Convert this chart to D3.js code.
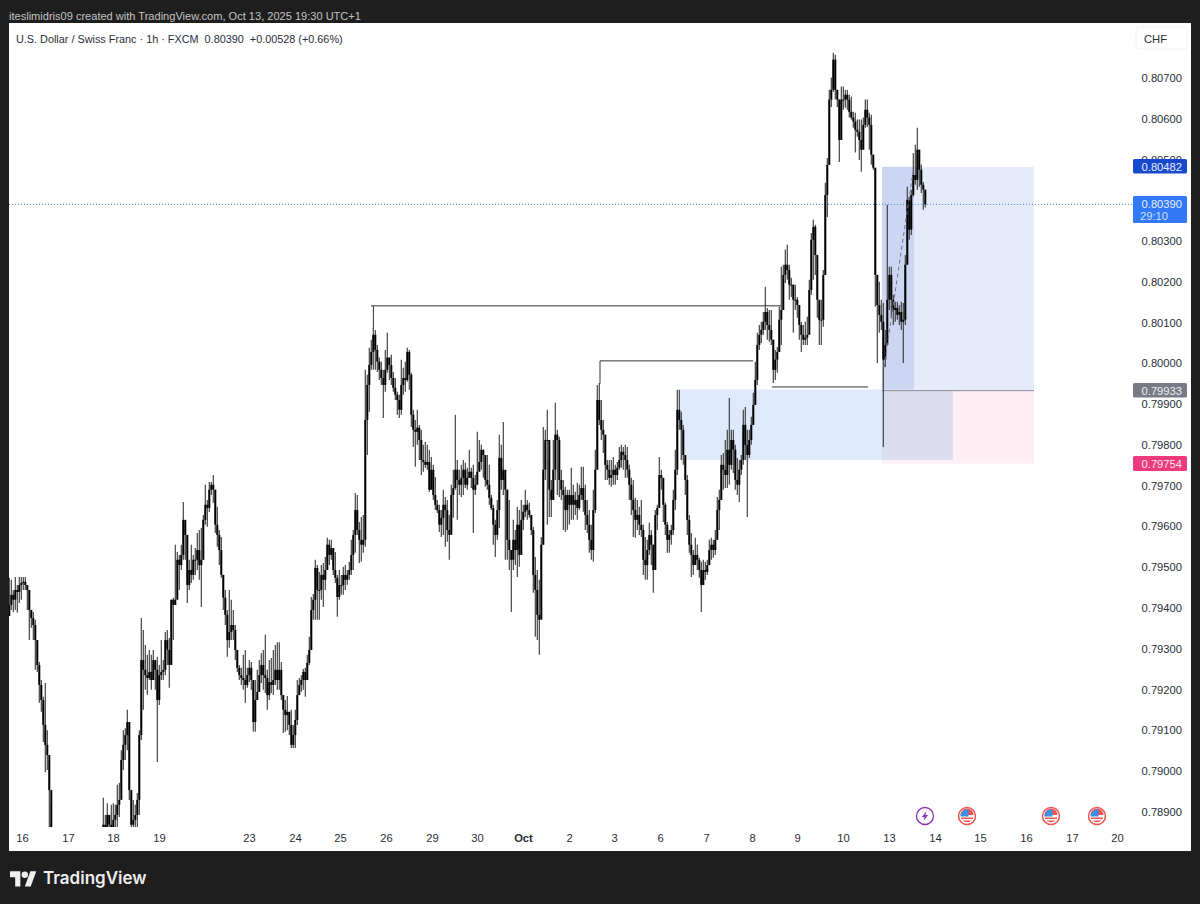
<!DOCTYPE html>
<html>
<head>
<meta charset="utf-8">
<script src="https://cdn.jsdelivr.net/npm/d3@7"></script>
<style>
  html, body { margin: 0; background: #1e1e1e; }
  svg { display: block; }
  text { font-family: "Liberation Sans", Arimo, sans-serif; }
</style>
</head>
<body>
<svg id="chart" width="1200" height="904"></svg>
<script>
// prices are in 1e-5 CHF points, one line per session
// the stretch around Sep 17 runs below the visible scale, so those are rough
const closes = [
  79407,79432,79420,79444,79439,79456,79461,79464,79456,79444,79395,79375,79358,79321,79260,79211,79174,79113,79064,79039,78953,78843,
  78790,78760,78700,78640,78590,78540,78500,78470,78430,78400,78360,78330,78300,78340,78390,78420,78460,78510,78540,78590,78620,78660,78700,78750,78800,
  78868,78855,78892,78868,78855,
  78880,78892,78917,78929,79027,79064,79088,79120,78953,78868,78880,78892,78929,79088,79272,79248,79235,79228,79243,79223,79272,79248,79174,
  79235,79243,79248,79321,79297,79260,79420,79407,79420,79518,79505,79530,79616,79579,79456,79493,79481,79518,79518,79542,79505,79518,79616,
  79653,79645,79690,79702,79690,79604,79579,79542,79481,79425,79383,79321,79341,79358,79346,79297,79253,79235,79228,79223,79211,79235,
  79253,79223,79120,79174,79194,79235,79260,79235,79228,79186,79218,79211,79223,79248,79223,79248,79186,79150,79137,79145,79113,79064,79088,
  79125,79186,79211,79223,79243,79223,79265,79297,79395,79420,79498,79444,79444,79481,79469,79493,79555,79530,79547,79493,79474,79427,79456,
  79456,79481,79469,79481,79493,79530,79579,79640,79591,79567,79555,79567,79861,79947,79996,80028,80070,80033,80004,79984,79964,79947,
  79984,80014,79996,79964,79940,79923,79910,79886,79947,79964,79959,80028,79972,79874,79837,79832,79842,79812,79763,79758,79751,79758,79690,
  79739,79677,79653,79640,79604,79621,79653,79640,79591,79579,79677,79694,79739,79714,79702,79719,79739,79702,79719,79734,79719,79690,79702,
  79734,79758,79788,79775,79714,79702,79670,79645,79604,79579,79640,79768,79714,79739,79690,79567,79542,79518,79567,79542,79604,79530,79616,
  79636,79653,79640,79628,79591,79481,79444,79383,79371,79555,79739,79812,79812,79690,79665,79739,79825,79812,79714,79690,79677,79640,79677,
  79653,79677,79653,79665,79645,79677,79694,79665,79628,79604,79567,79542,79640,79739,79910,79861,79837,79825,79751,79739,79719,79726,79739,79726,79744,79763,79783,
  79775,79763,79739,79702,79665,79640,79616,79628,79604,79591,79518,79505,79542,79579,79555,79493,79628,79645,79726,
  79719,79653,79604,79567,79579,79591,79665,79739,79886,79861,79837,79775,79714,79616,79555,79530,79505,79530,79518,79493,79456,79493,
  79488,79505,79542,79555,79542,79567,79640,79665,79751,79739,79726,79788,79751,79812,79788,79714,79702,79739,79763,79849,79800,79775,79812,
  79849,79898,79959,80045,80070,80082,80102,80126,80094,80082,80058,79984,80009,80028,80107,80131,80217,80242,80229,80193,80193,80156,80156,
  80143,80094,80070,80058,80063,80070,80180,80303,80335,80266,80156,80107,80107,80217,80413,80487,80647,80671,80745,80671,80647,80548,80647,
  80647,80659,80647,80617,80603,80593,80573,80568,80548,80524,80585,80622,80603,80585,80512,80480,80217,80143,80119,80102,80009,80045,80156,
  80217,80156,80131,80136,80119,80126,80102,80107,80242,80401,80328,80413,80462,80450,80524,80475,80438,80426,80390
];
const opens = [
  79380,79407,79432,79420,79444,79439,79456,79461,79464,79456,79444,79395,79375,79358,79321,79260,79211,79174,79113,79064,79039,78953,
  78843,78790,78760,78700,78640,78590,78540,78500,78470,78430,78400,78360,78330,78300,78340,78390,78420,78460,78510,78540,78590,78620,78660,78700,78750,
  78800,78868,78855,78892,78868,
  78855,78880,78892,78917,78929,79027,79064,79088,79120,78953,78868,78880,78892,78929,79088,79272,79248,79235,79228,79243,79223,79272,79248,
  79174,79235,79243,79248,79321,79297,79260,79420,79407,79420,79518,79505,79530,79616,79579,79456,79493,79481,79518,79518,79542,79505,79518,
  79616,79653,79645,79690,79702,79690,79604,79579,79542,79481,79425,79383,79321,79341,79358,79346,79297,79253,79235,79228,79223,79211,
  79235,79253,79223,79120,79174,79194,79235,79260,79235,79228,79186,79218,79211,79223,79248,79223,79248,79186,79150,79137,79145,79113,79064,
  79088,79125,79186,79211,79223,79243,79223,79265,79297,79395,79420,79498,79444,79444,79481,79469,79493,79555,79530,79547,79493,79474,79427,
  79456,79456,79481,79469,79481,79493,79530,79579,79640,79591,79567,79555,79567,79861,79947,79996,80028,80070,80033,80004,79984,79964,
  79947,79984,80014,79996,79964,79940,79923,79910,79886,79947,79964,79959,80028,79972,79874,79837,79832,79842,79812,79763,79758,79751,79758,
  79690,79739,79677,79653,79640,79604,79621,79653,79640,79591,79579,79677,79694,79739,79714,79702,79719,79739,79702,79719,79734,79719,79690,
  79702,79734,79758,79788,79775,79714,79702,79670,79645,79604,79579,79640,79768,79714,79739,79690,79567,79542,79518,79567,79542,79604,79530,
  79616,79636,79653,79640,79628,79591,79481,79444,79383,79371,79555,79739,79812,79812,79690,79665,79739,79825,79812,79714,79690,79677,79640,
  79677,79653,79677,79653,79665,79645,79677,79694,79665,79628,79604,79567,79542,79640,79739,79910,79861,79837,79825,79751,79739,79719,79726,79739,79726,79744,79763,
  79783,79775,79763,79739,79702,79665,79640,79616,79628,79604,79591,79518,79505,79542,79579,79555,79493,79628,79645,
  79726,79719,79653,79604,79567,79579,79591,79665,79739,79886,79861,79837,79775,79714,79616,79555,79530,79505,79530,79518,79493,79456,
  79493,79488,79505,79542,79555,79542,79567,79640,79665,79751,79739,79726,79788,79751,79812,79788,79714,79702,79739,79763,79849,79800,79775,
  79812,79849,79898,79959,80045,80070,80082,80102,80126,80094,80082,80058,79984,80009,80028,80107,80131,80217,80242,80229,80193,80193,80156,
  80156,80143,80094,80070,80058,80063,80070,80180,80303,80335,80266,80156,80107,80107,80217,80413,80487,80647,80671,80745,80671,80647,80548,
  80647,80647,80659,80647,80617,80603,80593,80573,80568,80548,80524,80585,80622,80603,80585,80512,80480,80217,80143,80119,80102,80009,80045,
  80156,80217,80156,80131,80136,80119,80126,80102,80107,80242,80401,80328,80413,80462,80450,80524,80475,80438,80426
];
const highs = [
  79474,79469,79444,79476,79456,79476,79476,79476,79476,79456,79444,79395,79390,79371,79321,79267,79223,79182,79216,79100,79027,78917,
  78830,78800,78740,78680,78630,78580,78540,78510,78470,78440,78400,78370,78340,78380,78430,78460,78500,78550,78580,78630,78660,78700,78740,78790,78840,
  78934,78892,78921,78892,78917,
  78921,78917,78966,78971,79051,79100,79105,79150,79064,78941,78929,78917,78946,79100,79375,79346,79309,79285,79297,79285,79297,79272,79280,
  79260,79321,79272,79341,79346,79326,79420,79425,79555,79537,79530,79555,79660,79604,79579,79518,79555,79530,79547,79584,79591,79596,79628,
  79702,79665,79709,79709,79726,79690,79648,79591,79574,79481,79444,79395,79444,79420,79395,79358,79297,79260,79253,79285,79297,79253,
  79272,79267,79206,79223,79248,79272,79289,79297,79334,79248,79272,79277,79297,79309,79316,79316,79267,79186,79174,79184,79145,79150,79113,
  79150,79223,79228,79235,79250,79253,79285,79329,79427,79434,79518,79505,79488,79505,79510,79525,79572,79567,79567,79542,79537,79481,79493,
  79481,79501,79505,79493,79513,79567,79591,79682,79677,79611,79623,79628,79984,79972,80038,80058,80087,80082,80045,80014,80004,79984,
  80033,80075,80014,80021,79979,79964,79930,79923,80009,79989,80004,80038,80033,79977,79886,79861,79886,79849,79837,79800,79807,79800,79788,
  79770,79751,79721,79665,79653,79640,79690,79672,79665,79628,79702,79739,79874,79763,79739,79751,79763,79756,79744,79788,79744,79751,79726,
  79832,79812,79800,79788,79768,79775,79751,79677,79653,79616,79665,79825,79800,79856,79726,79690,79665,79542,79616,79591,79648,79640,79665,
  79653,79690,79665,79658,79628,79599,79525,79493,79469,79574,79844,79837,79886,79763,79714,79812,79903,79837,79820,79739,79714,79697,79690,
  79690,79744,79702,79685,79707,79702,79746,79746,79702,79665,79640,79604,79690,79788,79947,79952,79910,79861,79812,79763,79763,79763,79770,79751,79758,79795,79800,
  79795,79800,79795,79751,79719,79714,79670,79665,79648,79665,79604,79574,79567,79609,79591,79555,79640,79653,79770,
  79739,79719,79658,79611,79591,79604,79690,79788,79935,79935,79881,79849,79768,79726,79628,79584,79542,79572,79555,79523,79513,79518,
  79513,79518,79567,79572,79567,79591,79672,79690,79775,79780,79812,79837,79915,79837,79837,79800,79768,79763,79775,79886,79893,79837,79837,
  79869,79928,80004,80075,80094,80102,80126,80188,80136,80131,80131,80058,80033,80040,80139,80237,80242,80279,80291,80242,80210,80193,80193,
  80163,80131,80102,80094,80102,80114,80205,80320,80352,80340,80229,80143,80156,80229,80443,80504,80671,80701,80762,80757,80671,80647,80679,
  80679,80671,80671,80659,80654,80617,80615,80598,80598,80598,80603,80647,80647,80615,80610,80512,80480,80212,80200,80156,80148,80082,80389,
  80237,80237,80168,80151,80151,80143,80151,80148,80266,80433,80409,80426,80516,80536,80578,80524,80487,80445,80426
];
const lows = [
  79383,79395,79390,79395,79388,79412,79420,79444,79444,79395,79321,79351,79321,79248,79243,79167,79145,79071,78997,79002,78862,78836,
  78750,78720,78660,78600,78550,78500,78460,78430,78390,78360,78320,78290,78260,78300,78350,78380,78420,78470,78500,78550,78580,78620,78660,78710,78760,
  78843,78831,78855,78843,78843,
  78843,78855,78860,78887,78953,79002,79027,79051,78929,78843,78843,78843,78855,78892,79076,79150,79199,79187,79223,79199,79223,79199,79022,
  79162,79223,79223,79235,79260,79204,79285,79321,79407,79432,79444,79493,79518,79518,79412,79444,79461,79469,79481,79493,79469,79402,79518,
  79604,79599,79635,79677,79658,79584,79550,79505,79474,79395,79358,79280,79302,79321,79321,79272,79243,79223,79211,79199,79167,79204,
  79218,79199,79096,79096,79174,79194,79216,79199,79191,79150,79174,79191,79186,79211,79199,79199,79174,79093,79096,79100,79088,79056,79056,
  79056,79113,79186,79194,79199,79182,79228,79260,79297,79371,79371,79371,79371,79420,79402,79444,79501,79505,79518,79481,79461,79378,79420,
  79432,79432,79444,79457,79469,79481,79493,79535,79579,79510,79513,79535,79550,79775,79881,79984,79984,79984,79979,79959,79947,79866,
  79930,79977,79959,79947,79930,79910,79874,79866,79874,79923,79930,79955,79935,79844,79795,79746,79800,79763,79726,79734,79744,79739,79685,
  79690,79665,79640,79633,79586,79574,79579,79550,79562,79518,79591,79621,79690,79616,79677,79672,79677,79694,79690,79719,79694,79584,79677,
  79714,79739,79739,79719,79697,79690,79653,79640,79555,79525,79567,79596,79690,79677,79518,79518,79493,79390,79493,79505,79476,79501,79567,
  79591,79623,79616,79621,79579,79437,79329,79321,79285,79395,79555,79714,79604,79623,79623,79665,79714,79677,79672,79665,79591,79586,79591,
  79604,79616,79616,79628,79616,79640,79665,79636,79591,79584,79535,79518,79513,79633,79739,79849,79812,79780,79714,79714,79702,79697,79702,79702,79714,79739,79744,
  79739,79719,79719,79665,79628,79574,79572,79591,79579,79574,79481,79469,79469,79530,79505,79437,79505,79591,79653,
  79690,79611,79579,79535,79535,79555,79579,79640,79726,79837,79763,79751,79677,79579,79535,79476,79481,79505,79493,79474,79390,79456,
  79469,79481,79505,79518,79523,79530,79567,79591,79665,79690,79694,79694,79702,79739,79731,79690,79677,79660,79726,79751,79763,79623,79768,
  79800,79849,79898,79947,80033,80050,80070,80082,80058,80053,80045,79952,79959,79977,80028,80045,80131,80197,80205,80156,80163,80075,80131,
  80112,80058,80028,80045,80045,80045,80094,80168,80205,80217,80112,80045,80045,80090,80217,80359,80487,80629,80666,80647,80629,80494,80610,
  80622,80627,80622,80603,80598,80578,80517,80556,80499,80470,80544,80578,80580,80524,80487,80475,80139,80001,80075,80082,79795,79991,80045,
  80131,80112,80094,80102,80107,80094,80082,80001,80094,80242,80303,80315,80409,80438,80426,80433,80418,80377,80382
];

// 0.80400 sits fully behind the last price tag in the picture, so it is left out
const priceTicks = [80700,80600,80500,80300,80200,80100,80000,79900,79800,79700,79600,79500,79400,79300,79200,79100,79000,78900];
const dateLabels = ["16","17","18","19","23","24","25","26","29","30","Oct","2","3","6","7","8","9","10","13","14","15","16","17","20"];
const dateBars = [6.5,29.5,52,75,120,143,165.5,188.5,211.5,234,257,280,302.5,325.5,348.5,371.5,394,417,440,463,485.5,508.5,531.5,554];

// position tool and zone levels
const targetPrice = 80482, entryPrice = 79933, stopPrice = 79754, lastPrice = 80390;
const zoneTop = 79936, zoneBottom = 79763;
// [barStart, priceStart, barEnd, priceEnd]
const levelLines = [
  [181, 80141, 386, 80141],
  [182.2, 80141, 182.2, 80085],
  [295.5, 79950, 295.5, 80006],
  [295.5, 80006, 372, 80006],
  [381.5, 79942, 429.5, 79942]
];
const eventBars = [458, 479, 521, 544];

const W = 1200, H = 904;
const PANEL = { l: 9, t: 23, r: 1191, b: 851 };
const PLOT_R = 1130, PLOT_B = 827;
const LABEL_FONT = "11.2px";

const x = d3.scaleLinear().domain([0, 458]).range([9, 925]);
const y = d3.scaleLinear().domain([78900, 80700]).range([811.7, 78]);

const svg = d3.select("#chart");

svg.append("rect").attr("width", W).attr("height", H).attr("fill", "#1e1e1e");
svg.append("rect")
  .attr("x", PANEL.l).attr("y", PANEL.t)
  .attr("width", PANEL.r - PANEL.l).attr("height", PANEL.b - PANEL.t)
  .attr("fill", "#fff");

svg.append("defs").append("clipPath").attr("id", "plot")
  .append("rect")
  .attr("x", PANEL.l).attr("y", PANEL.t)
  .attr("width", PLOT_R - PANEL.l).attr("height", PLOT_B - PANEL.t);

// ---- zone + long position boxes ---------------------------------------------
const box = (b0, b1, p0, p1, fill) =>
  svg.append("rect")
    .attr("x", x(b0)).attr("width", x(b1) - x(b0))
    .attr("y", y(p0)).attr("height", y(p1) - y(p0))
    .attr("fill", fill);

box(436.5, 512.5, targetPrice, entryPrice, "#e6ebf9");
box(436.5, 512.5, entryPrice, stopPrice, "#fdeff4");
box(436.5, 452.5, targetPrice, entryPrice, "#ccd6f3");
box(335.5, 472, zoneTop, zoneBottom, "#deeafc");
box(436.5, 472, entryPrice, zoneBottom, "#dcddf0");

svg.append("line")
  .attr("x1", x(436.5)).attr("x2", x(512.5))
  .attr("y1", y(entryPrice)).attr("y2", y(entryPrice))
  .attr("stroke", "#8a8d98").attr("stroke-width", 1);

// current price
svg.append("line")
  .attr("x1", PANEL.l).attr("x2", 1133)
  .attr("y1", y(lastPrice)).attr("y2", y(lastPrice))
  .attr("stroke", "#4f86d8").attr("stroke-width", 1)
  .attr("stroke-dasharray", "1,2");

// ---- candles ------------------------------------------------------------------
const candles = svg.append("g").attr("clip-path", "url(#plot)");
const bars = d3.range(closes.length);

candles.append("g").selectAll("line")
  .data(bars)
  .join("line")
  .attr("x1", (i) => x(i) + 0.3).attr("x2", (i) => x(i) + 0.3)
  .attr("y1", (i) => y(highs[i])).attr("y2", (i) => y(lows[i]))
  .attr("stroke", "#3c3c3c").attr("stroke-width", 1.15);

candles.append("g").selectAll("rect")
  .data(bars)
  .join("rect")
  .attr("x", (i) => x(i) - 0.7)
  .attr("width", 2)
  .attr("y", (i) => y(Math.max(opens[i], closes[i])))
  .attr("height", (i) => Math.max(1, Math.abs(y(opens[i]) - y(closes[i]))))
  .attr("fill", "#000");

// trade path
svg.append("line")
  .attr("x1", x(437.5)).attr("y1", y(79990))
  .attr("x2", x(452)).attr("y2", y(80470))
  .attr("stroke", "#6f7484").attr("stroke-width", 1).attr("stroke-dasharray", "4,3");

// manual level lines
svg.append("g").selectAll("line")
  .data(levelLines)
  .join("line")
  .attr("x1", (d) => x(d[0])).attr("y1", (d) => y(d[1]))
  .attr("x2", (d) => x(d[2])).attr("y2", (d) => y(d[3]))
  .attr("stroke", "#333").attr("stroke-width", 1);

// ---- axes ---------------------------------------------------------------------
const yAxis = svg.append("g")
  .attr("transform", "translate(1182,0)")
  .call(d3.axisLeft(y).tickValues(priceTicks).tickSize(0).tickPadding(0)
    .tickFormat((d) => (d / 1e5).toFixed(5)));
yAxis.select(".domain").remove();
yAxis.selectAll("text").attr("fill", "#2a2e39").style("font-size", LABEL_FONT).style("font-family", "Liberation Sans");

const xAxis = svg.append("g")
  .attr("transform", "translate(0,834)")
  .call(d3.axisBottom(x).tickValues(dateBars).tickSize(0).tickPadding(0)
    .tickFormat((d, i) => dateLabels[i]));
xAxis.select(".domain").remove();
xAxis.selectAll("text")
  .attr("fill", "#2a2e39")
  .style("font-size", LABEL_FONT).style("font-family", "Liberation Sans")
  .style("font-weight", (d, i) => (dateLabels[i] === "Oct" ? 700 : 400));

// ---- price tags ----------------------------------------------------------------
const tag = (top, h, fill) =>
  svg.append("rect").attr("x", 1133).attr("y", top).attr("width", 54).attr("height", h).attr("rx", 1.5).attr("fill", fill);
const tagText = (cy, txt, fill) =>
  svg.append("text").attr("x", 1182).attr("y", cy).attr("text-anchor", "end").attr("dominant-baseline", "central")
    .attr("fill", fill).style("font-size", LABEL_FONT).text(txt);

tag(159, 14.5, "#1848cc");
tagText(166.5, (targetPrice / 1e5).toFixed(5), "#e8eefc");
tag(196, 27, "#3179f5");
tagText(203.5, (lastPrice / 1e5).toFixed(5), "#e8eefc");
tagText(216, "29:10", "#cfe0ff").attr("x", 1140).attr("text-anchor", "start");
tag(383, 14.5, "#787b86");
tagText(390.5, (entryPrice / 1e5).toFixed(5), "#eeeeee");
tag(456, 15, "#ec3a7c");
tagText(463.5, (stopPrice / 1e5).toFixed(5), "#fde8ef");

// currency button
svg.append("rect").attr("x", 1136).attr("y", 27).attr("width", 51).attr("height", 22).attr("rx", 3)
  .attr("fill", "#fff").attr("stroke", "#f1f2f4");
svg.append("text").attr("x", 1144).attr("y", 38.5).attr("dominant-baseline", "central")
  .attr("fill", "#2a2e39").style("font-size", LABEL_FONT).text("CHF");

// ---- event markers -------------------------------------------------------------
const EVENT_Y = 816;
const events = svg.append("g");
eventBars.forEach((b, i) => {
  const g = events.append("g").attr("transform", `translate(${x(b)},${EVENT_Y})`);
  if (i === 0) {
    g.append("circle").attr("r", 8.5).attr("fill", "#fff").attr("stroke", "#8e2fb5").attr("stroke-width", 1.3);
    g.append("path").attr("d", "M1.5,-5 L-3,1 L-0.5,1 L-1.5,5 L3,-1 L0.5,-1 Z").attr("fill", "#8e2fb5");
    return;
  }
  g.append("circle").attr("r", 8.5).attr("fill", "#fff").attr("stroke", "#ef5350").attr("stroke-width", 1.5);
  g.append("path").attr("d", "M-6.5,-1 A6.5,6.5 0 0 1 6.5,-1 L-6.5,-1 Z").attr("fill", "#ef5350");
  g.append("path").attr("d", "M-6,1.5 H6 V3 H-6 Z").attr("fill", "#ef5350");
  g.append("path").attr("d", "M-4.5,4.5 H4.5 A6.5,6.5 0 0 1 -4.5,4.5 Z").attr("fill", "#ef5350");
  g.append("path").attr("d", "M-6.5,0.5 V-1 A6.5,6.5 0 0 1 1.5,-6.3 V0.5 Z").attr("fill", "#3d8fe6");
});

// ---- header + footer -----------------------------------------------------------
svg.append("text").attr("x", 9).attr("y", 15.5).attr("dominant-baseline", "central")
  .attr("fill", "#c4c4c4").style("font-size", "11.05px")
  .text("iteslimidris09 created with TradingView.com, Oct 13, 2025 19:30 UTC+1");
svg.append("text").attr("x", 16).attr("y", 39).attr("dominant-baseline", "central")
  .attr("fill", "#2a2e39").style("font-size", "10.85px").style("white-space", "pre")
  .text("U.S. Dollar / Swiss Franc · 1h · FXCM  0.80390  +0.00528 (+0.66%)");

svg.append("g").attr("transform", "translate(10,868) scale(0.74,0.84)").attr("fill", "#eee")
  .selectAll("path")
  .data(["M14 22H7V11H0V4h14v18z", "M28 22h-8l7.5-18h8L28 22z"])
  .join("path").attr("d", (d) => d);
svg.append("circle").attr("cx", 24.8).attr("cy", 874.7).attr("r", 3.2).attr("fill", "#eee");
svg.append("text").attr("x", 43).attr("y", 878).attr("dominant-baseline", "central")
  .attr("fill", "#eee")
  .style("font-family", "Inter").style("font-size", "17px").style("font-weight", 600)
  .text("TradingView");
</script>
</body>
</html>
